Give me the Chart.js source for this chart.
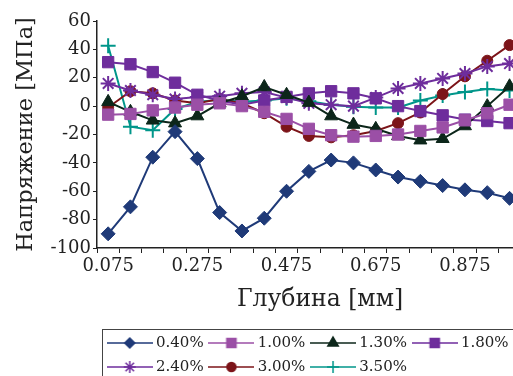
<!DOCTYPE html>
<html lang="ru">
<head>
<meta charset="UTF-8">
<title>Напряжение по глубине</title>
<script src="https://cdn.jsdelivr.net/npm/chart.js"></script>
<style>
  html, body { margin: 0; padding: 0; overflow: hidden; background: #fff; }
</style>
</head>
<body>
<canvas id="stressChart" width="560" height="390"></canvas>
<script>
// depth categories, mm (last one lies past the visible edge)
const depths = ['0.075', '0.125', '0.175', '0.225', '0.275', '0.325', '0.375', '0.425', '0.475', '0.525',
                '0.575', '0.625', '0.675', '0.725', '0.775', '0.825', '0.875', '0.925', '0.975', '1.025'];

// residual stress, MPa
const s040 = [-90, -71, -36, -18, -37, -75, -88, -79, -60, -46, -38, -40, -45, -50, -53, -56, -59, -61, -65];
const s100 = [-6, -5.5, -3, -1, 1, 2, 0, -4, -9, -16, -20.5, -21.5, -21, -20, -17.5, -15, -10, -5, 1];
const s130 = [3, -4, -10, -12, -7, 2, 7, 13.5, 8, 2.5, -7, -13, -16, -21, -24, -23, -14, 0, 14];
const s180 = [31, 29.5, 24, 16.5, 8, 4, 1, 4, 6.5, 9, 10.5, 9, 5.5, 0, -3.5, -6.5, -9.5, -10.5, -12];
const s240 = [16, 11, 8, 5, 6.5, 7, 9, 10, 6, 2, 1, 0, 6, 12.5, 16, 19.5, 23, 28, 30];
const s300 = [-1, 10.5, 9, 4, 2, 5, 2, -5, -14.5, -21, -22, -20.5, -17.5, -12, -4.5, 8.5, 21, 32, 43];
const s350 = [42.5, -14.5, -17, -2, 3, 4.5, 3, 4, 5.5, 3.5, 1, -0.5, -1, -1, 4, 7.5, 10, 12, 11];

const seriesLabels = ['0.40%', '1.00%', '1.30%', '1.80%', '2.40%', '3.00%', '3.50%'];

const FONT = 'DejaVu Serif';
const TEXT = '#222';

const looks = [
  { data: s040, color: '#1f3a78', style: 'rectRot',  r: 7,   lr: 5 },
  { data: s100, color: '#9b4fa6', style: 'rect',     r: 8,   lr: 6.5 },
  { data: s130, color: '#0c261a', style: 'triangle', r: 7.5, lr: 6 },
  { data: s180, color: '#6e2d9c', style: 'rect',     r: 8,   lr: 6.5 },
  { data: s240, color: '#6e2d9c', style: 'star',     r: 7.5, lr: 6 },
  { data: s300, color: '#7c1419', style: 'circle',   r: 5.5, lr: 4.5 },
  { data: s350, color: '#00968a', style: 'cross',    r: 7.5, lr: 6 }
];

// little line-with-marker pictures for the legend
function legendIcon(lk) {
  const c = document.createElement('canvas');
  c.width = 46; c.height = 16;
  const g = c.getContext('2d');
  g.strokeStyle = lk.color;
  g.fillStyle = lk.color;
  g.lineWidth = 1.5;
  g.beginPath(); g.moveTo(0, 8); g.lineTo(46, 8); g.stroke();
  Chart.helpers.drawPoint(g, { pointStyle: lk.style, radius: lk.lr, rotation: 0, borderWidth: 1.5 }, 23, 8);
  return c;
}

const datasets = looks.map((lk, i) => ({
  label: seriesLabels[i],
  data: lk.data,
  borderColor: lk.color,
  backgroundColor: lk.color,
  borderWidth: 2,
  pointStyle: lk.style,
  pointRadius: lk.r,
  pointBorderWidth: (lk.style === 'star' || lk.style === 'cross') ? 2 : 1,
  tension: 0,
  icon: legendIcon(lk)
}));

const legendFrame = {
  id: 'legendFrame',
  afterLayout(chart) {
    chart.legend.left += 5;
    chart.legend.right += 5;
  },
  afterDraw(chart) {
    const lg = chart.legend, ctx = chart.ctx;
    ctx.save();
    ctx.strokeStyle = '#444';
    ctx.lineWidth = 1;
    ctx.strokeRect(Math.round(lg.left) + 0.5, Math.round(lg.top + 2.5) + 0.5, 600, 200);
    ctx.restore();
  }
};

new Chart(document.getElementById('stressChart'), {
  type: 'line',
  data: { labels: depths, datasets: datasets },
  plugins: [legendFrame],
  options: {
    responsive: false,
    animation: false,
    layout: { padding: { left: 0, top: 21, right: 17, bottom: 5.5 } },
    plugins: {
      tooltip: { enabled: false },
      legend: {
        position: 'bottom',
        align: 'start',
        fullSize: false,
        labels: {
          usePointStyle: true,
          pointStyleWidth: 37.5,
          padding: 9,
          color: TEXT,
          font: { family: FONT, size: 15 },
          generateLabels: chart => chart.data.datasets.map((ds, i) => ({
            text: ds.label,
            datasetIndex: i,
            pointStyle: ds.icon,
            fillStyle: ds.borderColor,
            strokeStyle: ds.borderColor,
            lineWidth: 0,
            fontColor: TEXT
          }))
        }
      }
    },
    scales: {
      x: {
        type: 'category',
        offset: true,
        afterFit: s => { s.height = 78.5; },
        grid: { offset: true, drawOnChartArea: false, tickLength: 5, color: TEXT, lineWidth: 1 },
        border: { color: TEXT, width: 1.5 },
        ticks: {
          autoSkip: false,
          maxRotation: 0,
          padding: 3,
          color: TEXT,
          font: { family: FONT, size: 18 },
          callback: (v, i) => (i % 4 === 0 ? depths[i] : '')
        },
        title: {
          display: true,
          text: 'Глубина [мм]',
          color: TEXT,
          font: { family: FONT, size: 23.5, weight: 'normal' },
          padding: { top: 0, bottom: 13 }
        }
      },
      y: {
        min: -100,
        max: 60,
        afterFit: s => { s.width = 97; },
        grid: { drawOnChartArea: false, tickLength: 4, color: TEXT, lineWidth: 1 },
        border: { color: TEXT, width: 1.5 },
        ticks: {
          stepSize: 20,
          padding: 2,
          color: TEXT,
          font: { family: FONT, size: 18 }
        },
        title: {
          display: true,
          text: 'Напряжение [МПа]',
          color: TEXT,
          font: { family: FONT, size: 22.5, weight: 'normal' },
          padding: { top: 12.5, bottom: 0 }
        }
      }
    }
  }
});
</script>
</body>
</html>
